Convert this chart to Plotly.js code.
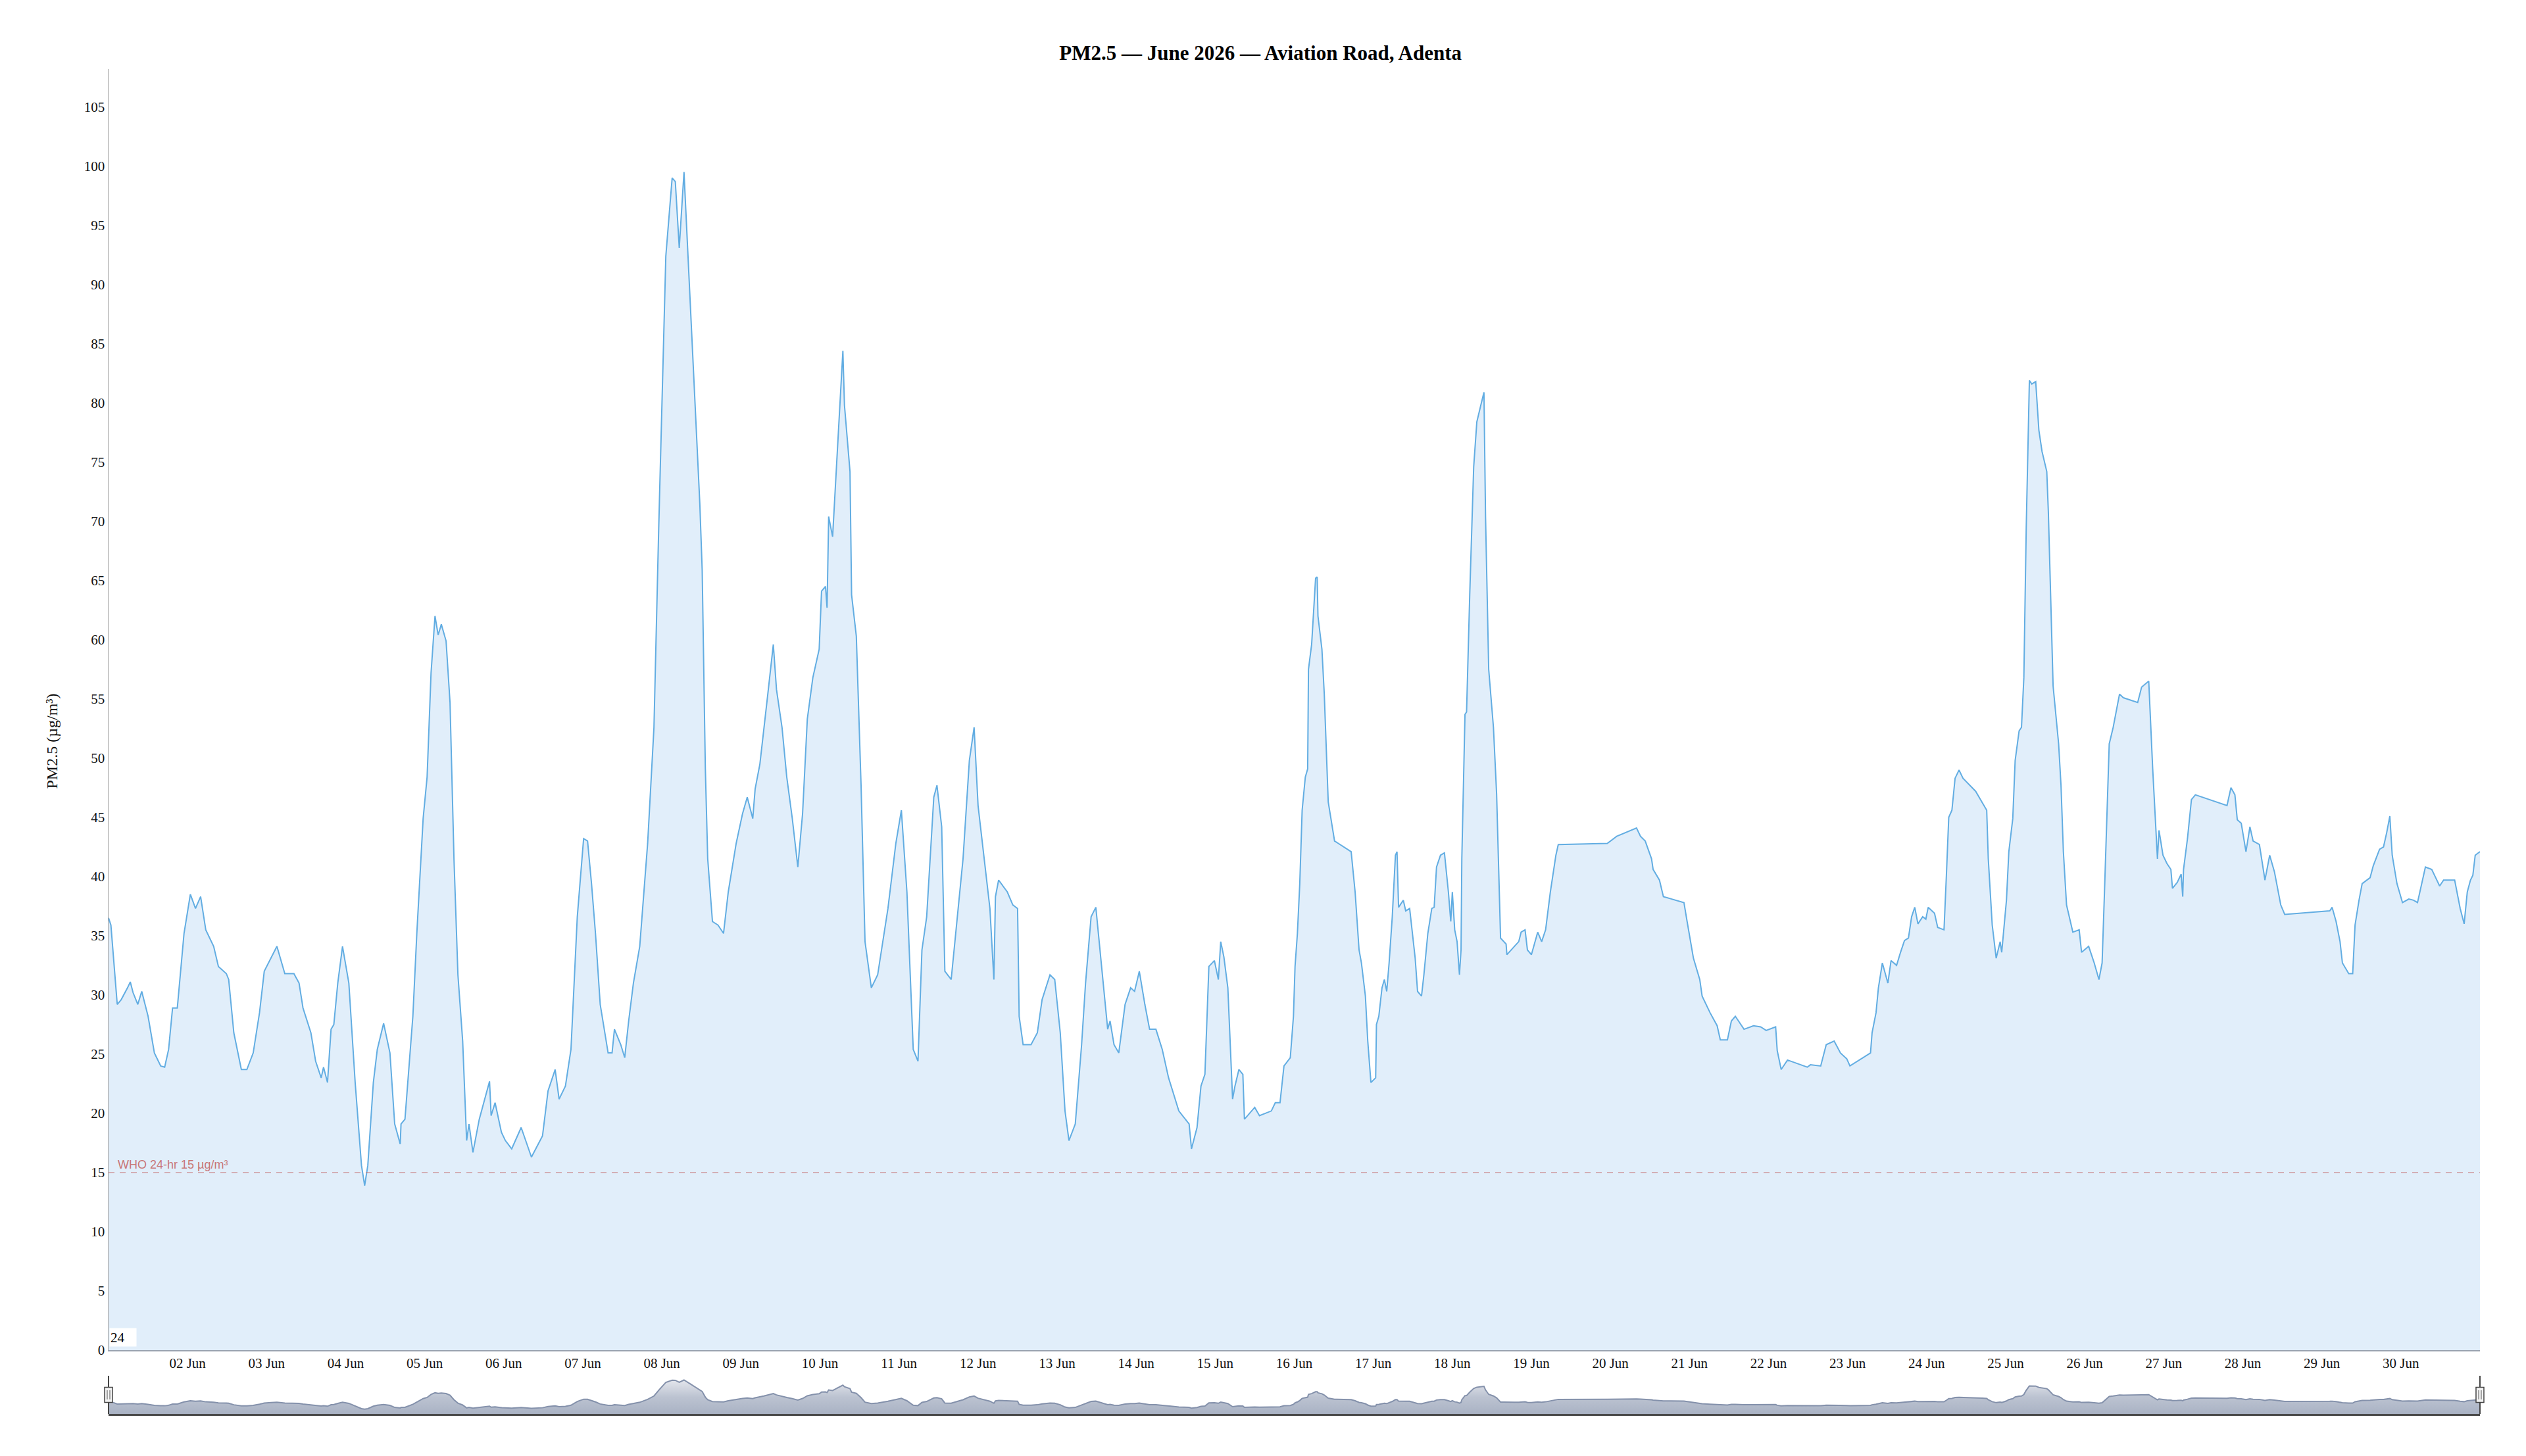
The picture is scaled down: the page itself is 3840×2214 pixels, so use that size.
<!DOCTYPE html>
<html>
<head>
<meta charset="utf-8">
<script src="https://cdn.plot.ly/plotly-3.0.1.min.js"></script>
<style>
html,body{margin:0;padding:0;background:#fff;}
#chart{width:3840px;height:2214px;}
</style>
</head>
<body>
<div id="chart"></div>
<script>
// Days since 2026-06-01 00:00 (fractional) and PM2.5 readings (µg/m³)
const dayOffset = [
0.00,0.03,0.11,0.16,0.24,0.275,0.31,0.37,0.42,0.50,0.58,0.66,0.71,0.76,0.81,0.87,0.955,
1.035,1.10,1.165,1.23,1.33,1.39,1.49,1.52,1.585,1.68,1.75,1.83,1.91,1.97,
2.055,2.13,2.23,2.345,2.41,2.46,2.56,2.62,2.69,2.72,2.77,2.815,2.85,2.90,2.96,
3.04,3.12,3.20,3.24,3.28,3.35,3.40,3.48,3.56,3.62,3.69,3.70,3.75,3.85,3.90,3.98,
4.03,4.08,4.13,4.17,4.21,4.27,4.32,4.37,4.42,4.48,4.53,4.56,4.61,4.69,4.76,4.82,4.84,4.89,4.97,
5.02,5.10,5.22,5.35,5.49,5.56,5.65,5.70,5.78,5.85,5.93,
6.01,6.06,6.11,6.16,6.22,6.32,6.37,6.40,6.48,6.53,6.58,6.64,6.72,6.82,6.90,6.96,
7.05,7.13,7.17,7.22,7.28,7.35,7.42,7.48,7.51,7.55,7.58,7.64,7.71,7.78,7.84,7.94,
8.02,8.08,8.15,8.18,8.24,8.29,8.34,8.41,8.45,8.52,8.58,8.65,8.72,8.78,8.84,8.91,8.99,
9.02,9.07,9.09,9.11,9.16,9.21,9.29,9.31,9.38,9.40,9.46,9.52,9.57,9.65,9.73,9.86,9.96,
10.03,10.10,10.18,10.24,10.29,10.35,10.44,10.48,10.54,10.58,10.66,10.73,10.81,10.89,10.95,
11.00,11.07,11.15,11.20,11.22,11.26,11.37,11.44,11.50,11.52,11.57,11.67,11.75,11.81,11.91,11.97,
12.04,12.10,12.15,12.23,12.31,12.36,12.43,12.49,12.57,12.64,12.67,12.72,12.78,12.86,12.93,12.98,
13.04,13.11,13.17,13.25,13.33,13.41,13.54,13.67,13.70,13.77,13.82,13.87,13.92,13.99,
14.04,14.07,14.11,14.16,14.22,14.25,14.30,14.35,14.37,14.50,14.56,14.71,14.76,14.82,14.87,14.95,14.99,
15.01,15.04,15.07,15.10,15.14,15.17,15.18,15.22,15.27,15.29,15.30,15.35,15.38,15.43,15.51,15.72,15.77,15.82,15.85,15.90,15.93,15.97,
16.03,16.04,16.07,16.11,16.14,16.17,16.20,16.24,16.28,16.30,16.32,16.38,16.41,16.46,16.50,16.53,16.56,16.61,16.64,16.69,16.74,16.77,16.80,16.85,16.90,16.95,16.98,
17.00,17.03,17.06,17.09,17.11,17.12,17.16,17.18,17.22,17.27,17.31,17.36,17.40,17.42,17.46,17.52,17.56,17.61,17.68,17.69,17.79,17.84,17.87,17.92,17.95,
18.00,18.08,18.13,18.18,18.24,18.31,18.34,18.96,
19.08,19.33,19.38,19.44,19.52,19.54,19.62,19.67,19.93,19.97,
20.05,20.13,20.16,20.26,20.35,20.39,20.48,20.53,20.58,20.69,20.81,20.90,20.97,
21.09,21.11,21.16,21.24,21.49,21.53,21.66,21.73,21.83,21.91,21.99,
22.03,22.29,22.31,22.36,22.39,22.44,22.51,22.55,22.62,22.67,22.72,22.77,22.81,22.85,22.89,22.95,22.99,
23.02,23.10,23.14,23.22,23.25,23.28,23.32,23.36,23.41,23.46,23.62,23.70,23.76,23.78,23.83,23.88,23.93,23.95,
24.01,24.04,24.09,24.12,24.17,24.20,24.23,24.26,24.30,24.33,24.38,24.42,24.46,24.52,24.54,24.60,24.67,24.70,24.73,24.77,24.85,24.93,24.96,
25.05,25.12,25.18,25.22,25.25,25.28,25.31,25.36,25.44,25.49,25.67,25.72,25.81,25.86,25.92,25.94,25.99,
26.04,26.09,26.11,26.17,26.22,26.24,26.25,26.30,26.35,26.40,26.80,26.85,26.90,26.93,26.98,
27.04,27.09,27.13,27.21,27.28,27.34,27.40,27.48,27.53,
28.10,28.13,28.18,28.23,28.26,28.34,28.39,28.42,28.47,28.51,28.61,28.65,28.73,28.78,28.82,28.86,28.89,28.95,
29.02,29.10,29.16,29.21,29.31,29.39,29.44,29.49,29.54,29.68,29.75,29.80,29.84,29.88,29.91,29.94,30.00
];
const pm25 = [
36.5,35.9,29.2,29.6,30.6,31.1,30.2,29.2,30.3,28.2,25.1,24.0,23.9,25.4,28.9,28.9,35.2,
38.5,37.3,38.3,35.5,34.1,32.4,31.8,31.3,26.8,23.7,23.7,25.1,28.5,32.0,
33.1,34.1,31.8,31.8,31.0,28.9,26.8,24.4,23.0,23.9,22.6,27.1,27.5,31.0,34.1,
31.0,22.6,15.6,13.9,15.6,22.6,25.4,27.6,25.1,19.1,17.4,19.1,19.5,28.2,35.2,44.9,
48.4,57.2,62.0,60.4,61.3,59.9,54.7,41.5,31.7,26.1,17.7,19.1,16.7,19.5,21.2,22.7,19.8,20.9,18.4,
17.7,17.0,18.8,16.3,18.1,21.9,23.7,21.2,22.3,25.4,36.6,
43.2,43.0,39.4,35.2,29.2,25.1,25.1,27.1,25.8,24.7,27.8,31.0,34.1,42.8,52.6,69.4,
92.4,99.0,98.7,93.1,99.5,89.6,79.8,71.5,65.9,49.1,41.5,36.2,35.9,35.2,38.7,42.8,
45.3,46.7,44.9,47.4,49.5,52.6,55.4,59.6,55.8,52.6,48.4,44.9,40.8,45.3,53.3,56.8,59.2,
64.1,64.5,62.7,70.4,68.7,74.9,84.4,79.8,74.2,63.8,60.3,47.7,34.5,30.6,31.7,37.3,42.8,
45.6,38.7,25.4,24.4,33.8,36.6,46.7,47.7,44.2,32.0,31.3,36.2,41.5,49.8,52.6,
46.0,41.8,37.3,31.3,38.3,39.7,38.7,37.6,37.3,28.2,25.8,25.8,26.8,29.6,31.7,31.3,
26.8,20.2,17.7,19.1,25.8,31.0,36.6,37.4,31.7,27.1,27.8,25.8,25.1,29.2,30.6,30.3,
32.0,29.2,27.1,27.1,25.4,23.0,20.2,19.1,17.0,18.8,22.3,23.3,32.4,32.9,
31.3,34.5,33.2,30.6,21.2,22.3,23.7,23.3,19.5,20.5,19.8,20.2,20.9,20.9,24.0,24.7,28.2,
32.4,35.2,39.4,45.6,48.4,49.1,57.5,59.6,65.2,65.3,62.0,59.2,55.4,46.3,43.0,42.1,38.7,33.8,32.7,29.9,26.1,22.6,
23.0,27.5,28.2,30.6,31.3,30.3,32.7,36.6,41.8,42.1,37.4,38.0,37.1,37.3,34.8,33.1,30.3,29.9,31.7,35.2,37.3,37.4,40.8,41.8,42.0,38.7,36.2,
38.7,35.5,34.5,31.7,33.8,41.5,53.7,53.9,63.8,74.6,78.4,79.8,80.9,70.4,57.5,52.6,47.0,34.8,34.3,33.4,34.1,34.5,35.3,35.5,33.8,
33.4,35.3,34.5,35.5,38.7,41.8,42.7,42.8,
43.4,44.1,43.4,43.0,41.5,40.6,39.7,38.3,37.8,36.2,
33.1,31.3,29.9,28.5,27.4,26.2,26.2,27.8,28.2,27.1,27.4,27.3,27.0,
27.3,25.3,23.7,24.5,23.9,24.1,24.0,25.8,26.1,25.1,24.6,
24.0,25.1,26.8,28.5,30.6,32.7,31.0,32.9,32.5,33.6,34.6,34.8,36.6,37.4,36.0,36.6,36.4,
37.4,36.9,35.7,35.5,40.1,45.0,45.6,48.3,49.0,48.3,47.2,46.3,45.6,41.5,35.9,33.1,34.5,33.6,
38.0,42.1,44.9,49.8,52.3,52.6,56.8,69.4,81.9,81.6,81.8,77.7,75.9,74.2,70.8,56.1,51.2,47.7,42.1,37.6,35.3,35.5,33.6,
34.1,32.7,31.3,32.7,38.7,45.6,51.2,52.6,55.4,55.1,54.7,56.0,56.5,49.1,41.5,43.9,41.8,
41.1,40.6,39.0,39.5,40.2,38.3,40.6,43.2,46.5,46.9,46.0,47.5,46.9,44.8,44.5,
42.1,44.2,43.0,42.7,39.7,41.8,40.4,37.6,36.8,
37.1,37.4,36.2,34.5,32.7,31.8,31.8,35.9,38.0,39.4,39.9,40.9,42.3,42.5,43.7,45.1,41.8,39.4,
37.8,38.1,38.0,37.8,40.8,40.6,39.9,39.2,39.7,39.7,37.3,36.0,38.7,39.7,40.1,41.8,42.1
];
const tickDates = [
'2026-06-02','2026-06-03','2026-06-04','2026-06-05','2026-06-06','2026-06-07','2026-06-08',
'2026-06-09','2026-06-10','2026-06-11','2026-06-12','2026-06-13','2026-06-14','2026-06-15',
'2026-06-16','2026-06-17','2026-06-18','2026-06-19','2026-06-20','2026-06-21','2026-06-22',
'2026-06-23','2026-06-24','2026-06-25','2026-06-26','2026-06-27','2026-06-28','2026-06-29','2026-06-30'
];
const tickLabels = [
'02 Jun','03 Jun','04 Jun','05 Jun','06 Jun','07 Jun','08 Jun',
'09 Jun','10 Jun','11 Jun','12 Jun','13 Jun','14 Jun','15 Jun',
'16 Jun','17 Jun','18 Jun','19 Jun','20 Jun','21 Jun','22 Jun',
'23 Jun','24 Jun','25 Jun','26 Jun','27 Jun','28 Jun','29 Jun','30 Jun'
];
const whoLimit = 15;
const rollPeriod = '24';
const startDate = '2026-06-01 00:00:00';
const endDate = '2026-07-01 00:00:00';

function toStamp(d){
  const t = new Date(Date.UTC(2026,5,1) + Math.round(d*86400000));
  const p = n => String(n).padStart(2,'0');
  return t.getUTCFullYear()+'-'+p(t.getUTCMonth()+1)+'-'+p(t.getUTCDate())+' '+p(t.getUTCHours())+':'+p(t.getUTCMinutes())+':'+p(t.getUTCSeconds());
}
const times = dayOffset.map(toStamp);

const W = 3840, H = 2214;
const L = 165, R = 3770, T = 105, MAINB = 2053, SLB = 2150, SLT = 2092;
const plotH = SLB - T, plotW = R - L;
const px = v => v / plotW;

const serif = 'Liberation Serif, Times New Roman, serif';

const main = {
  x: times, y: pm25, type: 'scatter', mode: 'lines',
  line: {color: '#62ade2', width: 2},
  fill: 'tozeroy', fillcolor: '#e1eefa',
  xaxis: 'x', yaxis: 'y', hoverinfo: 'skip'
};
const mini = {
  x: times, y: pm25, type: 'scatter', mode: 'lines',
  line: {color: '#8491ab', width: 2},
  fill: 'tozeroy', fillcolor: 'rgba(170,180,200,0.8)',
  fillgradient: {type: 'vertical', colorscale: [[0, '#a9b2c4'], [0.5, '#bcc3d1'], [1, '#e4e6ec']]},
  xaxis: 'x2', yaxis: 'y2', hoverinfo: 'skip'
};

const hx0 = px(-6), hx1 = px(6);
const layout = {
  width: W, height: H,
  margin: {l: L, r: W - R, t: T, b: H - SLB, pad: 0},
  paper_bgcolor: '#fff', plot_bgcolor: 'rgba(0,0,0,0)',
  showlegend: false,
  title: {
    text: '<b>PM2.5 — June 2026 — Aviation Road, Adenta</b>',
    x: 0.499, xanchor: 'center', y: 1 - 80/H, yanchor: 'middle',
    font: {family: serif, size: 31, color: '#000'}
  },
  xaxis: {
    type: 'date', range: [startDate, endDate], domain: [0, 1], anchor: 'y',
    tickmode: 'array', tickvals: tickDates, ticktext: tickLabels,
    tickfont: {family: serif, size: 21, color: '#111'},
    ticks: '', showgrid: false, zeroline: false,
    showline: true, linecolor: '#9aa3b0', linewidth: 1.5,
    fixedrange: true
  },
  yaxis: {
    range: [0, 108.2], domain: [(SLB - MAINB)/plotH, 1], anchor: 'x',
    tick0: 0, dtick: 5,
    tickfont: {family: serif, size: 21, color: '#111'},
    ticks: '', showgrid: false, zeroline: false,
    showline: true, linecolor: '#a4a4a4', linewidth: 1.5,
    fixedrange: true
  },
  xaxis2: {
    type: 'date', range: [startDate, endDate], domain: [0, 1], anchor: 'y2',
    showticklabels: false, ticks: '', showgrid: false, zeroline: false,
    showline: true, linecolor: '#4a4a4a', linewidth: 3, fixedrange: true
  },
  yaxis2: {
    range: [0, 112], domain: [0, (SLB - SLT)/plotH], anchor: 'x2',
    visible: false, fixedrange: true
  },
  shapes: [
    {type: 'line', xref: 'paper', yref: 'y', x0: 0, x1: 1, y0: whoLimit, y1: whoLimit,
     line: {color: 'rgba(196,110,110,0.65)', width: 1.5, dash: '9px,8px'}},
    {type: 'line', xref: 'paper', yref: 'y2 domain', x0: 0, x1: 0, y0: 0, y1: 1,
     line: {color: '#444', width: 2}},
    {type: 'line', xref: 'paper', yref: 'y2 domain', x0: 1, x1: 1, y0: 0, y1: 1,
     line: {color: '#444', width: 2}},
    {type: 'rect', xref: 'paper', yref: 'y2 domain', x0: hx0, x1: hx1, y0: 0.3, y1: 0.7,
     fillcolor: '#f2f2f2', line: {color: '#444', width: 1.5}},
    {type: 'rect', xref: 'paper', yref: 'y2 domain', x0: 1 + hx0, x1: 1 + hx1, y0: 0.3, y1: 0.7,
     fillcolor: '#f2f2f2', line: {color: '#444', width: 1.5}},
    {type: 'line', xref: 'paper', yref: 'y2 domain', x0: px(-2), x1: px(-2), y0: 0.38, y1: 0.62, line: {color: '#555', width: 1}},
    {type: 'line', xref: 'paper', yref: 'y2 domain', x0: px(2), x1: px(2), y0: 0.38, y1: 0.62, line: {color: '#555', width: 1}},
    {type: 'line', xref: 'paper', yref: 'y2 domain', x0: 1 + px(-2), x1: 1 + px(-2), y0: 0.38, y1: 0.62, line: {color: '#555', width: 1}},
    {type: 'line', xref: 'paper', yref: 'y2 domain', x0: 1 + px(2), x1: 1 + px(2), y0: 0.38, y1: 0.62, line: {color: '#555', width: 1}}
  ],
  annotations: [
    {xref: 'paper', yref: 'paper', x: (78 - L)/plotW, y: 0.5, xanchor: 'center', yanchor: 'middle',
     showarrow: false, textangle: -90, text: 'PM2.5 (µg/m³)',
     font: {family: serif, size: 24, color: '#111'}},
    {xref: 'paper', yref: 'y', x: 0, y: whoLimit, xanchor: 'left', yanchor: 'bottom',
     xshift: 12, yshift: 0, showarrow: false,
     text: 'WHO 24-hr 15 µg/m³',
     font: {family: 'Liberation Sans, Arial, sans-serif', size: 18, color: '#c87676'}},
    {xref: 'paper', yref: 'y', x: 0, y: 0, xanchor: 'left', yanchor: 'bottom',
     xshift: 1, yshift: 5, showarrow: false, text: rollPeriod, align: 'left',
     width: 38, height: 25, borderpad: 1, bgcolor: '#fff', bordercolor: 'rgba(0,0,0,0)',
     font: {family: serif, size: 21, color: '#000'}}
  ]
};

Plotly.newPlot('chart', [main, mini], layout, {displayModeBar: false, staticPlot: true});
</script>
</body>
</html>
